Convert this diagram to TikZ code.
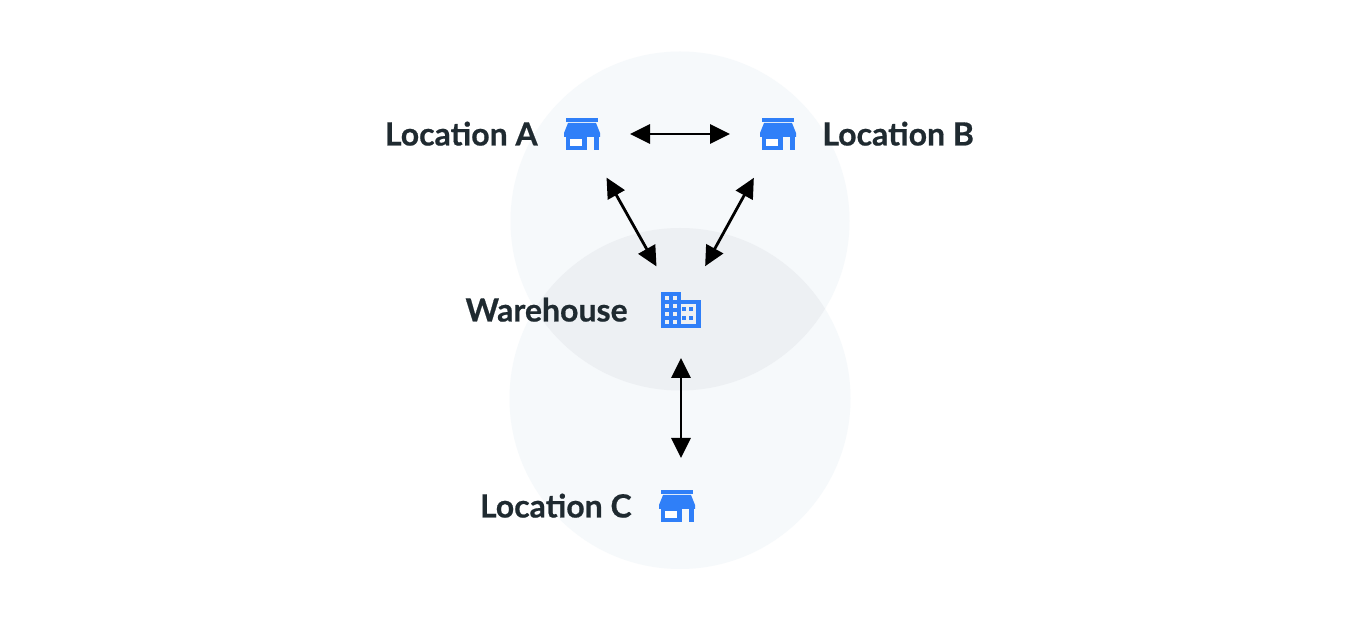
\documentclass[tikz,border=0pt]{standalone}
\usepackage{fontspec}
\setmainfont{Lato}[BoldFeatures={FakeBold=0.6}]
\usepackage{tikz}
\usetikzlibrary{positioning,arrows.meta}
\definecolor{haze}{HTML}{F6F9FB}
\definecolor{hazedark}{HTML}{EDF0F3}
\definecolor{iconblue}{HTML}{2F7FF8}
\definecolor{inkdark}{HTML}{1F2A30}
\tikzstyle{site} = [circle, inner sep=0pt, outer sep=0pt, minimum size=48pt]
\tikzstyle{place} = [inner sep=0pt, font=\bfseries\fontsize{16}{19}\selectfont, text=inkdark, text height=11.5pt, text depth=0pt, draw=none]
\tikzstyle{link} = [line width=1.4pt, black, {Triangle[length=10pt,width=9.5pt]}-{Triangle[length=10pt,width=9.5pt]}]
\tikzset{
	shopicon/.pic={
			\fill[iconblue] (-16,-16) rectangle (16,-12);
			\fill[iconblue] (-14,-11) -- (14,-11) -- (18,-1) -- (18,3) -- (-18,3) -- (-18,-1) -- cycle;
			\fill[iconblue] (-16,3) rectangle (5,16);
			\fill[iconblue] (12,3) rectangle (16.5,16);
			\fill[white] (-12,5) rectangle (0,12);
		},
	depoticon/.pic={
			\fill[iconblue] (-20,-18) rectangle (0,18);
			\fill[iconblue] (0,-10) rectangle (20,18);
			\fill[hazedark] (0,-6) rectangle (15,14);
			\foreach \wx in {-14,-6}
			\foreach \wy in {-12,-4,4,12}
			\fill[hazedark] (\wx-2.2,\wy-2.2) rectangle (\wx+2.2,\wy+2.2);
			\foreach \wx in {3,10}
			\foreach \wy in {-1,8}
			\fill[iconblue] (\wx-2,\wy-2) rectangle (\wx+2,\wy+2);
		}
}

\begin{document}
\begin{tikzpicture}[x=0.5pt,y=-0.5pt]
	\useasboundingbox (0,0) rectangle (1360,624);
	\fill[white] (0,0) rectangle (1360,624);

	% Coverage circles
	\fill[haze] (680,221) circle (169.5);
	\fill[haze] (680,398.5) circle (170.5);
	\begin{scope}
		\clip (680,221) circle (169.5);
		\fill[hazedark] (680,398.5) circle (170.5);
	\end{scope}

	% Sites
	\node[site] (locA) at (582,134) {};
	\node[site] (locB) at (778,134) {};
	\node[site] (depot) at (681,310) {};
	\node[site] (locC) at (677,506) {};

	% Icons
	\pic at (locA) {shopicon};
	\pic at (locB) {shopicon};
	\pic at (depot) {depoticon};
	\pic at (locC) {shopicon};

	% Labels
	\node[place, left=-2pt of locA] (labelA) {Location A};
	\node[place, right=-2pt of locB] (labelB) {Location B};
	\node[place, left=2.5pt of depot] (labelD) {Warehouse};
	\node[place, left=-1.5pt of locC] (labelC) {Location C};

	% Connections
	\draw[link] (locA) -- (locB);
	\draw[link, shorten <=1pt, shorten >=1pt] (locA) -- (depot);
	\draw[link, shorten <=1pt, shorten >=1pt] (locB) -- (depot);
	\draw[link] (depot.south) -- (depot.south |- locC.north);

\end{tikzpicture}
\end{document}
